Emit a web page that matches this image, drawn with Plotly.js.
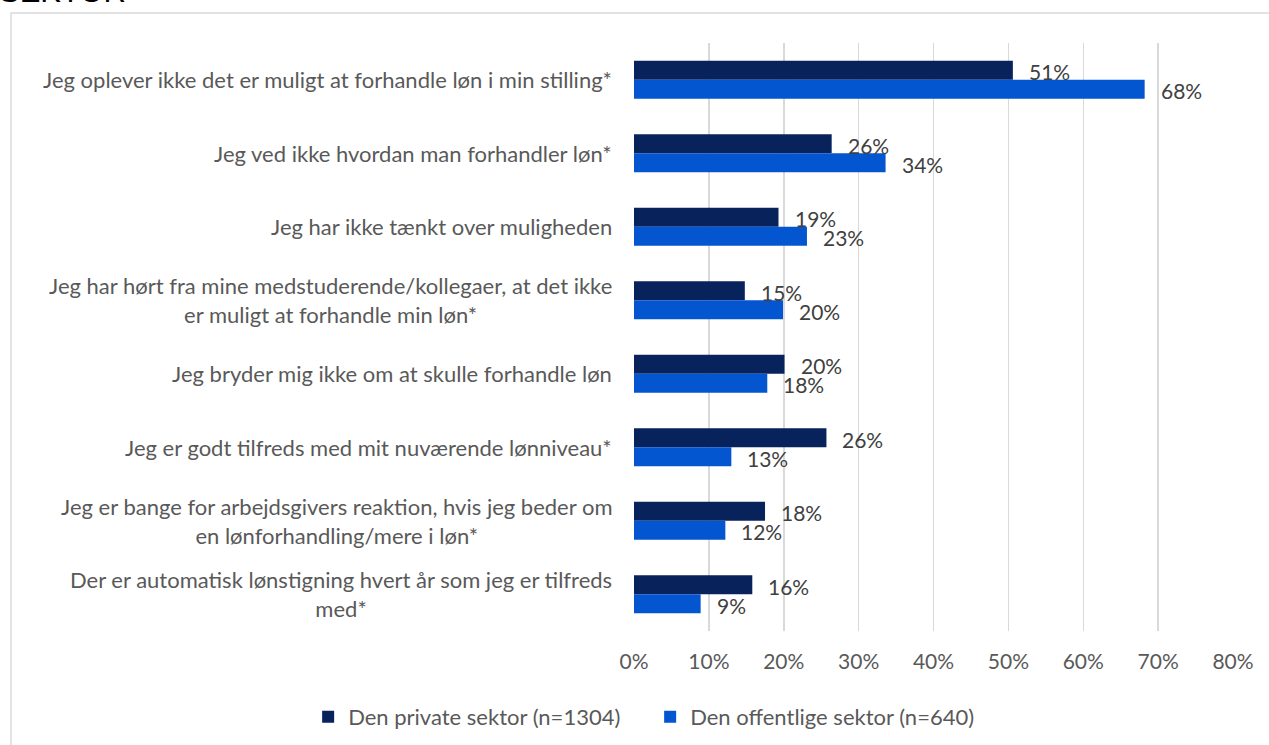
<!DOCTYPE html>
<html>
<head>
<meta charset="utf-8">
<script src="https://cdn.plot.ly/plotly-3.0.1.min.js"></script>
<style>
html,body{margin:0;padding:0;background:#fff;}
#chart{width:1269px;height:745px;}
</style>
</head>
<body>
<div id="chart"></div>
<script>
var categories = [
  "Jeg oplever ikke det er muligt at forhandle løn i min stilling*",
  "Jeg ved ikke hvordan man forhandler løn*",
  "Jeg har ikke tænkt over muligheden",
  "Jeg har hørt fra mine medstuderende/kollegaer, at det ikke<br>er muligt at forhandle min løn*",
  "Jeg bryder mig ikke om at skulle forhandle løn",
  "Jeg er godt tilfreds med mit nuværende lønniveau*",
  "Jeg er bange for arbejdsgivers reaktion, hvis jeg beder om<br>en lønforhandling/mere i løn*",
  "Der er automatisk lønstigning hvert år som jeg er tilfreds<br>med*"
];
var privateName = "Den private sektor (n=1304)";
var publicName = "Den offentlige sektor (n=640)";
var privateValues = [50.6, 26.4, 19.3, 14.8, 20.1, 25.7, 17.5, 15.8];
var publicValues  = [68.2, 33.6, 23.1, 19.9, 17.8, 13.0, 12.2, 8.9];
var xTickVals = [0, 10, 20, 30, 40, 50, 60, 70, 80];
var xTickText = ["0%", "10%", "20%", "30%", "40%", "50%", "60%", "70%", "80%"];
var cutTitle = "SEKTOR";

var FONT = "Lato, 'Open Sans', sans-serif";
var colPrivate = "#08225C";
var colPublic = "#0455D0";

var traces = [
  {type: "bar", orientation: "h", name: privateName, y: categories, x: privateValues,
   marker: {color: colPrivate}, hoverinfo: "skip"},
  {type: "bar", orientation: "h", name: publicName, y: categories, x: publicValues,
   marker: {color: colPublic}, hoverinfo: "skip"}
];

var annotations = [];
categories.forEach(function(c, i){
  annotations.push({xref: "paper", yref: "y", x: 0, y: c, xanchor: "right", yanchor: "middle",
    xshift: -20, text: c, showarrow: false, align: "center",
    font: {family: FONT, size: 22, color: "#595959"}});
  annotations.push({xref: "x", yref: "y", x: privateValues[i], y: c, xanchor: "left", yanchor: "middle",
    xshift: 14, yshift: 8, text: Math.round(privateValues[i]) + "%", showarrow: false,
    font: {family: FONT, size: 21, color: "#404040"}});
  annotations.push({xref: "x", yref: "y", x: publicValues[i], y: c, xanchor: "left", yanchor: "middle",
    xshift: 14, yshift: -11, text: Math.round(publicValues[i]) + "%", showarrow: false,
    font: {family: FONT, size: 21, color: "#404040"}});
});
annotations.push({xref: "paper", yref: "paper", x: -1.064, y: 1.055, xanchor: "left", yanchor: "bottom",
  text: cutTitle, showarrow: false, font: {family: "Liberation Sans, Arial, sans-serif", size: 31, color: "#000"}});

var layout = {
  width: 1269, height: 745,
  margin: {l: 634, r: 36, t: 43, b: 114, pad: 0, autoexpand: false},
  paper_bgcolor: "#fff", plot_bgcolor: "#fff",
  barmode: "group", bargap: 0.483, bargroupgap: 0,
  showlegend: true,
  legend: {orientation: "h", x: -0.544, xanchor: "left", y: -0.146, yanchor: "middle",
    entrywidth: 297, entrywidthmode: "pixels",
    font: {family: FONT, size: 22, color: "#595959"}, traceorder: "normal"},
  xaxis: {range: [0, 80], tickvals: xTickVals, ticktext: xTickText, showgrid: true,
    gridcolor: "#d9d9d9", gridwidth: 1.5, zeroline: false, showline: false, ticks: "",
    ticklabelstandoff: 16, tickfont: {family: FONT, size: 21, color: "#595959"}, fixedrange: true},
  yaxis: {autorange: "reversed", showticklabels: false, showgrid: false, zeroline: false,
    ticks: "", fixedrange: true},
  annotations: annotations,
  shapes: [{type: "rect", xref: "paper", yref: "paper", x0: -1.04, x1: 1.2, y0: -0.3, y1: 1.051,
    line: {color: "#d9d9d9", width: 1.5}, fillcolor: "rgba(0,0,0,0)", layer: "below"}]
};

Plotly.newPlot("chart", traces, layout, {displayModeBar: false, staticPlot: true});
</script>
</body>
</html>
